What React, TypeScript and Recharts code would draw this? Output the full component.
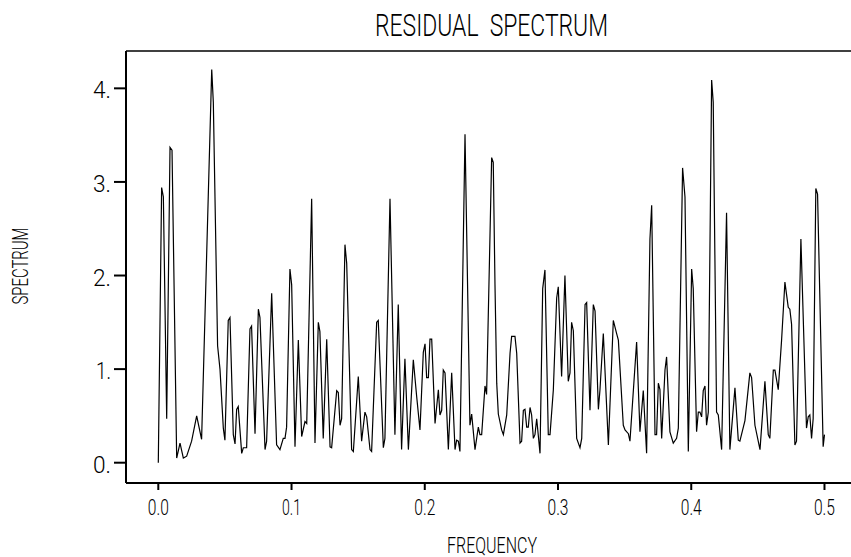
import React from 'react';
import { LineChart, Line, XAxis, YAxis, ReferenceLine } from 'recharts';

const frequency = [
  0, 0.0025, 0.0038, 0.0063, 0.0088, 0.0103, 0.0138, 0.0163, 0.0188, 0.0213,
  0.025, 0.0288, 0.0325, 0.0401, 0.0413, 0.0445, 0.0463, 0.0488, 0.05, 0.0525,
  0.0538, 0.0563, 0.0576, 0.0588, 0.06, 0.0626, 0.0638, 0.0663, 0.0688, 0.07,
  0.0726, 0.0751, 0.0763, 0.0801, 0.0813, 0.0851, 0.0888, 0.0913, 0.0938, 0.0951,
  0.0963, 0.0988, 0.1001, 0.1026, 0.1051, 0.1076, 0.1101, 0.1114, 0.1151, 0.1176,
  0.1201, 0.1213, 0.1238, 0.1264, 0.1289, 0.1301, 0.1339, 0.1351, 0.1364, 0.1376,
  0.1401, 0.1414, 0.1451, 0.1464, 0.1501, 0.1526, 0.1551, 0.1564, 0.1589, 0.1601,
  0.1639, 0.1651, 0.1689, 0.1701, 0.1739, 0.1776, 0.1801, 0.1826, 0.1851, 0.1877,
  0.1914, 0.1939, 0.1964, 0.1989, 0.2002, 0.2014, 0.2027, 0.2039, 0.2052, 0.2077,
  0.2102, 0.2114, 0.2127, 0.2139, 0.2152, 0.2177, 0.2202, 0.2227, 0.2239, 0.2252,
  0.2264, 0.2302, 0.2339, 0.2352, 0.2377, 0.2402, 0.2414, 0.2427, 0.2452, 0.2464,
  0.2502, 0.2514, 0.2527, 0.254, 0.2552, 0.2577, 0.259, 0.2615, 0.264, 0.2652,
  0.2677, 0.269, 0.2715, 0.2727, 0.274, 0.2752, 0.2765, 0.2777, 0.279, 0.2802,
  0.2815, 0.2827, 0.284, 0.2865, 0.2885, 0.2902, 0.2927, 0.294, 0.2965, 0.299,
  0.3002, 0.3027, 0.3052, 0.3077, 0.309, 0.3102, 0.3115, 0.314, 0.3165, 0.3178,
  0.3203, 0.3215, 0.324, 0.3265, 0.3278, 0.3303, 0.3315, 0.334, 0.3378, 0.3415,
  0.344, 0.3453, 0.349, 0.3503, 0.3528, 0.354, 0.359, 0.3615, 0.364, 0.3665,
  0.369, 0.3703, 0.3728, 0.374, 0.3753, 0.3765, 0.3778, 0.3803, 0.3815, 0.384,
  0.3865, 0.389, 0.3903, 0.3935, 0.3953, 0.3978, 0.4003, 0.4015, 0.404, 0.4053,
  0.4065, 0.4078, 0.409, 0.4103, 0.4115, 0.4128, 0.4153, 0.4165, 0.419, 0.4203,
  0.4228, 0.4265, 0.429, 0.4328, 0.4353, 0.4365, 0.4403, 0.444, 0.4453, 0.4478,
  0.4516, 0.4553, 0.4578, 0.459, 0.4616, 0.4628, 0.4653, 0.4678, 0.4703, 0.4728,
  0.474, 0.4753, 0.4778, 0.479, 0.4823, 0.4865, 0.4878, 0.489, 0.4903, 0.4915,
  0.4935, 0.4948, 0.499, 0.5,
];

const spectrum = [
  0, 2.94, 2.84, 0.47, 3.37, 3.34, 0.05, 0.21, 0.05, 0.07,
  0.23, 0.5, 0.25, 4.2, 3.85, 1.25, 1.0, 0.37, 0.24, 1.52,
  1.55, 0.3, 0.2, 0.57, 0.6, 0.1, 0.16, 0.16, 1.43, 1.46,
  0.31, 1.64, 1.55, 0.14, 0.23, 1.81, 0.19, 0.14, 0.26, 0.26,
  0.38, 2.07, 1.9, 0.17, 1.31, 0.28, 0.44, 0.42, 2.82, 0.21,
  1.5, 1.4, 0.26, 1.32, 0.17, 0.16, 0.77, 0.75, 0.4, 0.47,
  2.33, 2.13, 0.14, 0.12, 0.92, 0.23, 0.54, 0.49, 0.14, 0.12,
  1.5, 1.52, 0.16, 0.26, 2.82, 0.3, 1.69, 0.14, 1.11, 0.14,
  1.1, 0.71, 0.35, 1.18, 1.27, 0.91, 0.91, 1.32, 1.32, 0.42,
  0.78, 0.51, 0.56, 0.99, 0.96, 0.14, 0.96, 0.14, 0.24, 0.23,
  0.12, 3.51, 0.4, 0.52, 0.14, 0.38, 0.3, 0.3, 0.82, 0.73,
  3.26, 3.21, 1.9, 0.85, 0.52, 0.35, 0.3, 0.51, 1.17, 1.35,
  1.35, 1.17, 0.21, 0.23, 0.56, 0.57, 0.38, 0.38, 0.59, 0.51,
  0.26, 0.3, 0.47, 0.1, 1.86, 2.06, 0.3, 0.3, 0.78, 1.76,
  1.88, 0.92, 2.0, 0.87, 0.96, 1.5, 1.41, 0.26, 0.16, 0.26,
  1.69, 1.71, 0.56, 1.69, 1.62, 0.57, 0.78, 1.38, 0.19, 1.52,
  1.38, 1.31, 0.4, 0.35, 0.31, 0.23, 1.29, 0.33, 0.77, 0.1,
  2.39, 2.75, 0.3, 0.3, 0.85, 0.78, 0.26, 0.99, 1.13, 0.33,
  0.21, 0.26, 0.37, 3.15, 2.84, 0.12, 2.07, 1.86, 0.33, 0.54,
  0.54, 0.49, 0.77, 0.82, 0.4, 0.54, 4.09, 3.85, 0.54, 0.51,
  0.14, 2.67, 0.14, 0.8, 0.24, 0.23, 0.45, 0.96, 0.91, 0.4,
  0.14, 0.87, 0.3, 0.26, 0.99, 0.99, 0.78, 1.31, 1.93, 1.66,
  1.64, 1.48, 0.19, 0.23, 2.39, 0.37, 0.49, 0.51, 0.26, 0.47,
  2.93, 2.87, 0.17, 0.3,
];

const xTicks = [0, 0.1, 0.2, 0.3, 0.4, 0.5];
const xTickLabels = ['0.0', '0.1', '0.2', '0.3', '0.4', '0.5'];
const yTicks = [0, 1, 2, 3, 4];
const yTickLabels = ['0.', '1.', '2.', '3.', '4.'];

const X_MIN = -0.02424;
const X_MAX = 0.5199;
const Y_MIN = -0.2169;
const Y_MAX = 4.399;

const FONT = 'Roboto, "Liberation Sans", sans-serif';
const WEIGHT = 300;

const data = frequency.map((f, i) => ({ f, s: spectrum[i] }));

const XTick = (props: any) => {
  const { x, y, payload } = props;
  const idx = xTicks.findIndex((t) => Math.abs(t - payload.value) < 1e-9);
  const label = idx >= 0 ? xTickLabels[idx] : String(payload.value);
  return (
    <text x={x} y={y + 25} textAnchor="middle" fontFamily={FONT} fontWeight={WEIGHT} fontSize={22} fill="#000"
      textLength={label === '0.1' ? 19 : 21} lengthAdjust="spacingAndGlyphs">
      {label}
    </text>
  );
};

const YTick = (props: any) => {
  const { x, y, payload } = props;
  const idx = yTicks.findIndex((t) => Math.abs(t - payload.value) < 1e-9);
  const label = idx >= 0 ? yTickLabels[idx] : String(payload.value);
  return (
    <text x={x} y={y + 10} textAnchor="end" fontFamily={FONT} fontWeight={WEIGHT} fontSize={23} fill="#000"
      textLength={label === '1.' ? 15 : 18} lengthAdjust="spacingAndGlyphs">
      {label}
    </text>
  );
};

export default function App() {
  return (
    <div style={{ position: 'absolute', left: 0, top: 0, width: 851, height: 557, background: '#fff' }}>
      <LineChart width={851} height={557} data={data} margin={{ top: 51, right: 0, bottom: 0, left: 0 }}>
        <XAxis
          dataKey="f"
          type="number"
          domain={[X_MIN, X_MAX]}
          allowDataOverflow
          ticks={xTicks}
          height={74}
          tickSize={7}
          tickMargin={0}
          axisLine={{ stroke: '#000', strokeWidth: 2 }}
          tickLine={{ stroke: '#000', strokeWidth: 2 }}
          tick={<XTick />}
          interval={0}
        />
        <YAxis
          type="number"
          domain={[Y_MIN, Y_MAX]}
          allowDataOverflow
          ticks={yTicks}
          width={126}
          tickSize={12}
          tickMargin={3}
          axisLine={{ stroke: '#000', strokeWidth: 2 }}
          tickLine={{ stroke: '#000', strokeWidth: 2 }}
          tick={<YTick />}
          interval={0}
        />
        <ReferenceLine y={Y_MAX} stroke="#000" strokeWidth={1.5} />
        <Line
          dataKey="s"
          type="linear"
          stroke="#000"
          strokeWidth={1.2}
          dot={false}
          isAnimationActive={false}
        />
      </LineChart>
      <svg width={851} height={557} style={{ position: 'absolute', left: 0, top: 0, pointerEvents: 'none' }}>
        <text x={375} y={36} fontFamily={FONT} fontWeight={WEIGHT} fontSize={31} fill="#000"
          textLength={233} lengthAdjust="spacingAndGlyphs" xmlSpace="preserve" style={{ whiteSpace: 'pre' }}>
          {'RESIDUAL  SPECTRUM'}
        </text>
        <text x={447} y={553} fontFamily={FONT} fontWeight={WEIGHT} fontSize={22} fill="#000" textLength={90} lengthAdjust="spacingAndGlyphs">
          FREQUENCY
        </text>
        <text x={28} y={266} fontFamily={FONT} fontWeight={WEIGHT} fontSize={22} fill="#000" textAnchor="middle"
          transform="rotate(-90, 28, 266)" textLength={77} lengthAdjust="spacingAndGlyphs">
          SPECTRUM
        </text>
      </svg>
    </div>
  );
}
